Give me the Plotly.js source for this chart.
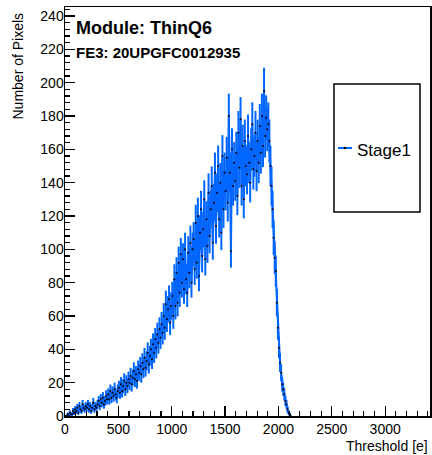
<!DOCTYPE html>
<html>
<head>
<meta charset="utf-8">
<script src="https://cdn.plot.ly/plotly-3.0.1.min.js"></script>
<style>html,body{margin:0;padding:0;background:#fff;}#chart{width:432px;height:455px;}</style>
</head>
<body>
<div id="chart"></div>
<script>
// Histogram: Threshold [e], bin width 10 e starting at 0
const seriesName = "Stage1";
const binStart = 0;
const binWidth = 10;
const counts = [
  0,0,1,0,2,1,1,3,2,4,
  3,5,2,6,4,3,7,5,4,6,
  5,7,4,6,3,5,8,4,6,5,
  7,9,6,10,8,11,7,9,12,10,
  13,10,15,11,14,12,16,13,11,15,
  17,14,19,15,18,21,16,20,18,22,
  20,24,19,23,27,22,25,21,28,26,
  30,25,32,28,35,29,33,38,31,36,
  40,34,43,38,46,41,49,44,52,47,
  55,50,60,53,67,58,64,70,56,66,
  72,60,82,66,86,68,92,74,97,80,
  94,76,100,82,74,98,86,104,80,100,
  106,88,116,92,120,84,110,124,96,112,
  130,94,118,102,134,108,124,138,104,128,
  146,114,134,150,118,140,110,156,124,146,
  135,155,128,180,146,99,160,138,152,141,
  158,132,170,149,178,138,162,130,165,150,
  145,168,152,140,160,175,148,156,170,147,
  165,152,174,158,180,162,195,168,179,172,
  175,165,150,138,124,107,95,87,68,53,
  41,32,26,19,16,13,9,7,4,2,1,0
];
const moduleLabel = "Module: ThinQ6";
const feLabel = "FE3: 20UPGFC0012935";
const xTitle = "Threshold [e]";
const yTitle = "Number of Pixels";

const xCenters = counts.map((_, i) => binStart + binWidth * i + binWidth / 2);

const blue = "#0066ff";
const L = 65, T = 7, R = 430, B = 416;
const W = R - L, H = B - T;
const px = x => (x - L) / W;
const py = y => (B - y) / H;

const font = "Liberation Sans, Arial, Helvetica, sans-serif";

const trace = {
  type: "scatter",
  mode: "lines+markers",
  name: seriesName,
  x: xCenters,
  y: counts,
  line: {color: blue, width: 2},
  marker: {color: "black", size: 2},
  error_y: {type: "sqrt", visible: true, color: blue, thickness: 2, width: 0},
  showlegend: false
};

const layout = {
  width: 432, height: 455,
  margin: {l: L, r: 432 - R, t: T, b: 455 - B},
  paper_bgcolor: "white", plot_bgcolor: "white",
  font: {family: font, size: 14, color: "black"},
  showlegend: false,
  xaxis: {
    range: [0, 3420], showgrid: false, zeroline: false,
    showline: true, mirror: true, linecolor: "black", linewidth: 1.5,
    ticks: "inside", ticklen: 10, tickwidth: 1.2, tickcolor: "black",
    dtick: 500, tick0: 0,
    tickfont: {family: font, size: 14, color: "black"},
    minor: {ticks: "inside", ticklen: 5, dtick: 100, tickcolor: "black", tickwidth: 1.2}
  },
  yaxis: {
    range: [0, 245.4], showgrid: false, zeroline: false,
    showline: true, mirror: true, linecolor: "black", linewidth: 1.5,
    ticks: "inside", ticklen: 10, tickwidth: 1.2, tickcolor: "black",
    dtick: 20, tick0: 0, ticklabelstandoff: -3,
    tickfont: {family: font, size: 14, color: "black"},
    minor: {ticks: "inside", ticklen: 5, dtick: 4, tickcolor: "black", tickwidth: 1.2}
  },
  shapes: [
    {type: "rect", xref: "paper", yref: "paper", x0: px(334), x1: px(420), y0: py(212), y1: py(84),
     line: {color: "black", width: 1.5}, fillcolor: "white"},
    {type: "line", xref: "paper", yref: "paper", x0: px(338), x1: px(352), y0: py(148), y1: py(148),
     line: {color: blue, width: 2}},
    {type: "circle", xref: "paper", yref: "paper", xsizemode: "pixel", ysizemode: "pixel",
     xanchor: px(345), yanchor: py(148), x0: -1.2, x1: 1.2, y0: -1.2, y1: 1.2,
     fillcolor: "black", line: {width: 0}}
  ],
  annotations: [
    {text: moduleLabel, xref: "paper", yref: "paper", x: px(74), y: py(27.5),
     xanchor: "left", yanchor: "middle", showarrow: false,
     font: {family: font, size: 18, color: "black", weight: "bold"}},
    {text: feLabel, xref: "paper", yref: "paper", x: px(74), y: py(53),
     xanchor: "left", yanchor: "middle", showarrow: false,
     font: {family: font, size: 15, color: "black", weight: "bold"}},
    {text: seriesName, xref: "paper", yref: "paper", x: px(355), y: py(150),
     xanchor: "left", yanchor: "middle", showarrow: false,
     font: {family: font, size: 17, color: "black"}},
    {text: xTitle, xref: "paper", yref: "paper", x: px(430), y: py(445.5),
     xanchor: "right", yanchor: "middle", showarrow: false,
     font: {family: font, size: 14, color: "black"}},
    {text: yTitle, xref: "paper", yref: "paper", x: px(17), y: py(11),
     xanchor: "center", yanchor: "top", textangle: -90, showarrow: false,
     font: {family: font, size: 14, color: "black"}}
  ]
};

Plotly.newPlot("chart", [trace], layout, {displayModeBar: false, staticPlot: true});
</script>
</body>
</html>
